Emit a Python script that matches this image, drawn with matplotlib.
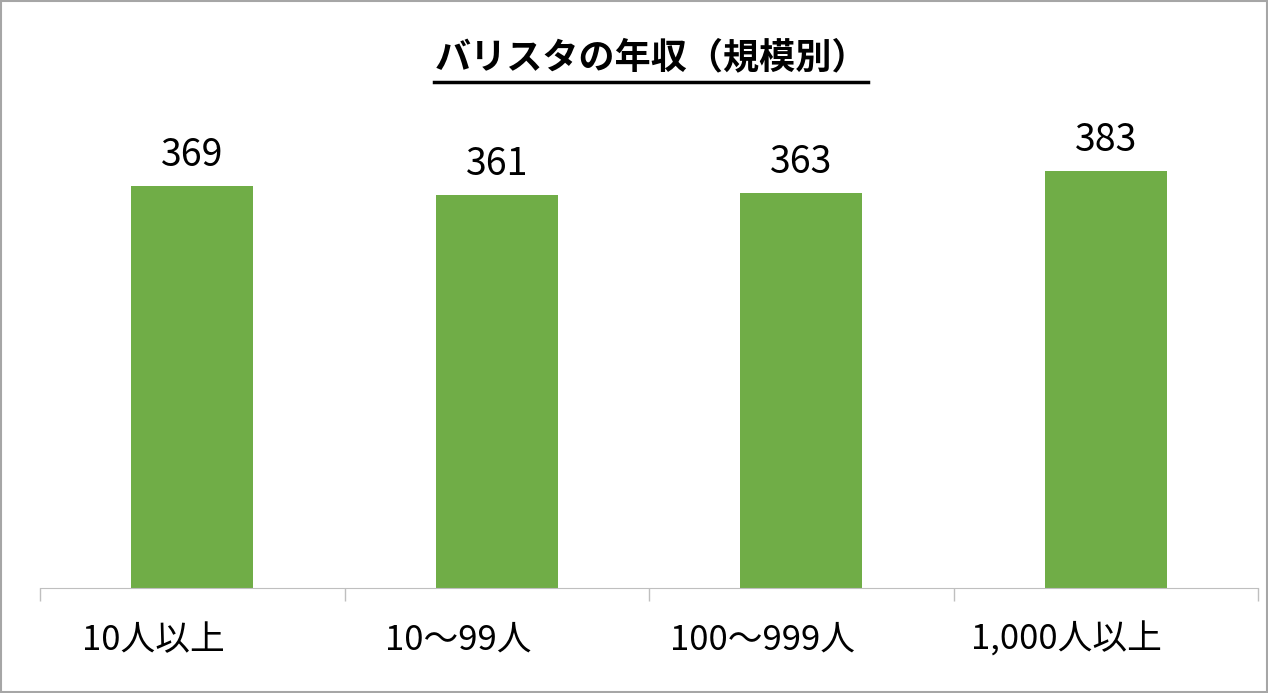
import matplotlib
matplotlib.use("Agg")
import matplotlib.pyplot as plt
import matplotlib.transforms as mtransforms
from matplotlib.patches import Rectangle
from matplotlib.lines import Line2D

plt.rcParams['font.family'] = ['Noto Sans CJK JP', 'DejaVu Sans']

categories = ['10人以上', '10～99人', '100～999人', '1,000人以上']
values = [369, 361, 363, 383]
title = 'バリスタの年収（規模別）'

fig = plt.figure(figsize=(12.68, 6.93), dpi=100)
ax = fig.add_axes([40 / 1268, 1 - 588 / 693, 1218 / 1268, 490 / 693])

x = list(range(len(categories)))
ax.bar(x, values, width=0.4, color='#70AD47')
for xi, v in zip(x, values):
    ax.text(xi, v + 10, str(v), ha='center', va='bottom', fontsize=27)

ax.set_xlim(-0.5, len(categories) - 0.5)
ax.set_ylim(0, 450)
ax.set_yticks([])
ax.set_xticks(x)
ax.set_xticklabels(categories, fontsize=25)
ax.set_xticks([i - 0.5 for i in range(len(categories) + 1)], minor=True)
ax.tick_params(axis='x', which='major', length=0, pad=25)
ax.tick_params(axis='x', which='minor', length=9, color='#BFBFBF', width=1)
shift = mtransforms.ScaledTranslation(-0.39, 0, fig.dpi_scale_trans)
for lbl in ax.get_xticklabels():
    lbl.set_transform(lbl.get_transform() + shift)
for s in ['top', 'right', 'left']:
    ax.spines[s].set_visible(False)
ax.spines['bottom'].set_color('#BFBFBF')

t = fig.text(651 / 1268, 1 - 58 / 693, title, ha='center', va='center',
             fontsize=26, fontweight='bold')
fig.canvas.draw()
bb = t.get_window_extent(fig.canvas.get_renderer())
fig.add_artist(Line2D([bb.x0 / 1268, bb.x1 / 1268], [1 - 82 / 693, 1 - 82 / 693],
                      transform=fig.transFigure, color='black', lw=2.5))

fig.add_artist(Rectangle((0.001, 0.002), 0.998, 0.996, transform=fig.transFigure,
                         fill=False, edgecolor='#A6A6A6', lw=1.5))

fig.savefig('out.png', dpi=100)
